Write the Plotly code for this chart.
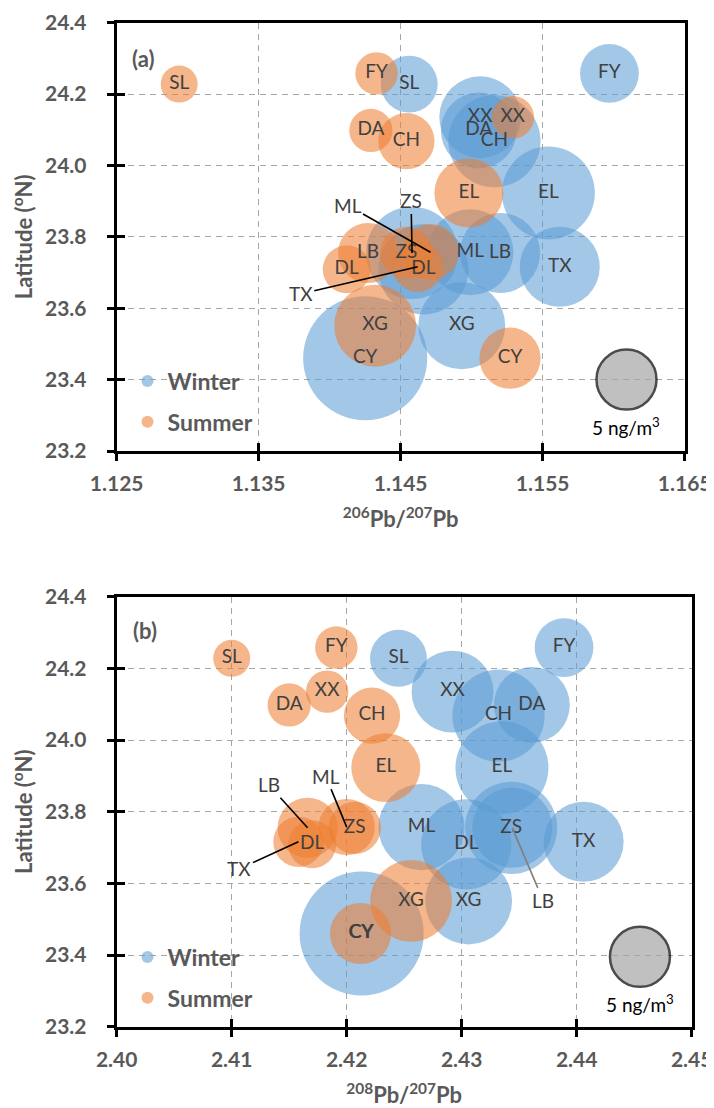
import plotly.graph_objects as go

# ---------------- data ----------------
sites = ["SL", "FY", "XX", "DA", "CH", "EL", "ZS", "ML", "LB", "DL", "TX", "XG", "CY"]
latitude = [24.228, 24.258, 24.135, 24.098, 24.068, 23.923, 23.755, 23.757, 23.755, 23.709, 23.716, 23.551, 23.460]

pb206_207_winter = [1.1456, 1.1597, 1.1506, 1.1505, 1.1516, 1.1554, 1.1458, 1.1499, 1.1520, 1.1466, 1.1562, 1.1493, 1.1425]
pb206_207_summer = [1.1294, 1.1433, 1.1529, 1.1429, 1.1454, 1.1498, 1.1454, 1.1471, 1.1427, 1.1412, 1.1462, 1.1432, 1.1527]
pb208_207_winter = [2.4245, 2.4389, 2.4292, 2.4361, 2.4332, 2.4335, 2.4343, 2.4265, 2.4344, 2.4304, 2.4406, 2.4306, 2.4213]
pb208_207_summer = [2.4100, 2.4191, 2.4183, 2.4150, 2.4222, 2.4234, 2.4207, 2.4200, 2.4166, 2.4170, 2.4158, 2.4256, 2.4212]

# Pb concentration (ng/m3), bubble area
pb_winter = [4.5, 4.8, 9.3, 8.0, 11.8, 12.0, 11.8, 10.3, 8.9, 11.3, 8.9, 10.5, 21.4]
pb_summer = [1.9, 2.5, 2.5, 2.6, 4.4, 6.6, 3.8, 4.4, 5.0, 3.2, 3.5, 9.3, 5.2]

# reference bubble (5 ng/m3)
ref_value = 5
ref_a = (1.1609, 23.40)
ref_b = (2.4455, 23.395)

# axis ticks
x_ticks_a = [1.125, 1.135, 1.145, 1.155, 1.165]
x_ticktext_a = ["1.125", "1.135", "1.145", "1.155", "1.165"]
x_ticks_b = [2.40, 2.41, 2.42, 2.43, 2.44, 2.45]
x_ticktext_b = ["2.40", "2.41", "2.42", "2.43", "2.44", "2.45"]
y_ticks = [23.2, 23.4, 23.6, 23.8, 24.0, 24.2, 24.4]
y_ticktext = ["23.2", "23.4", "23.6", "23.8", "24.0", "24.2", "24.4"]

# callout labels: (season, site, text offset x px, text offset y px, line colour)
callouts_a = [("Summer", "ML", -83, -47, "black"), ("Summer", "TX", -117, 27, "black"),
              ("Winter", "ZS", -1, -52, "black")]
callouts_b = [("Summer", "LB", -39, -43, "black"), ("Summer", "ML", -21, -51, "black"),
              ("Summer", "TX", -59, 27, "black"), ("Winter", "LB", 31, 73, "#7f7f7f")]

# ---------------- style ----------------
OFF = 8                      # default page margin of the html body
W, H = 714, 1108
BLUE = "rgba(91,155,213,0.80)"
ORANGE = "rgba(237,125,49,0.80)"
GRAY_TXT = "#595959"
LABEL_TXT = "#404040"
FONT = "Lato"
SIZEREF = 2.0 * ref_value / 60.0 ** 2   # 5 ng/m3 -> 60 px diameter

def xdom(a, b):
    return [(a - OFF) / W, (b - OFF) / W]

def ydom(bottom, top):
    return [1 - (bottom - OFF) / H, 1 - (top - OFF) / H]

dom_x_a = xdom(116.7, 684.7)
dom_x_b = xdom(116.7, 691.7)
dom_y_a = ydom(451.0, 22.7)
dom_y_b = ydom(1026.7, 596.7)

fig = go.Figure()

panels = [
    dict(xa="x", ya="y", xs_w=pb206_207_winter, xs_s=pb206_207_summer, ref=ref_a,
         legend="legend", callouts=callouts_a),
    dict(xa="x2", ya="y2", xs_w=pb208_207_winter, xs_s=pb208_207_summer, ref=ref_b,
         legend="legend2", callouts=callouts_b),
]

annotations = []
for p in panels:
    series = [("Winter", p["xs_w"], BLUE, pb_winter), ("Summer", p["xs_s"], ORANGE, pb_summer)]
    for name, xs, col, vals in series:
        fig.add_trace(go.Scatter(
            x=xs, y=latitude, mode="markers", name=name,
            marker=dict(size=vals, sizemode="area", sizeref=SIZEREF, color=col, line=dict(width=0)),
            xaxis=p["xa"], yaxis=p["ya"], legend=p["legend"], legendgroup=name,
            hoverinfo="x+y+name"))
    # reference bubble
    fig.add_trace(go.Scatter(
        x=[p["ref"][0]], y=[p["ref"][1]], mode="markers",
        marker=dict(size=[ref_value], sizemode="area", sizeref=SIZEREF, color="#A6A6A6",
                    line=dict(color="black", width=2.5)),
        xaxis=p["xa"], yaxis=p["ya"], showlegend=False, hoverinfo="skip"))
    annotations.append(dict(x=p["ref"][0], y=p["ref"][1], xref=p["xa"], yref=p["ya"],
                            text="5 ng/m<sup>3</sup>", showarrow=False, yshift=-47,
                            xanchor="center", yanchor="middle",
                            font=dict(family=FONT, size=19, color="black")))
    # labels
    co = {(c[0], c[1]): c for c in p["callouts"]}
    for name, xs, col, vals in series:
        keep = [i for i, s in enumerate(sites) if (name, s) not in co]
        fig.add_trace(go.Scatter(
            x=[xs[i] for i in keep], y=[latitude[i] for i in keep], mode="text",
            text=[sites[i] for i in keep], textposition="middle center",
            textfont=dict(family=FONT, size=19, color=LABEL_TXT),
            xaxis=p["xa"], yaxis=p["ya"], showlegend=False, hoverinfo="skip"))
        for (season, site), c in co.items():
            if season != name:
                continue
            i = sites.index(site)
            annotations.append(dict(
                x=xs[i], y=latitude[i], xref=p["xa"], yref=p["ya"], text=site,
                showarrow=True, arrowhead=0, arrowwidth=1.6, arrowcolor=c[4],
                ax=c[2], ay=c[3], font=dict(family=FONT, size=19, color=LABEL_TXT)))

# placeholder traces so the overlay tick axes (crossing tick marks) are drawn
fig.add_trace(go.Scatter(x=[x_ticks_a[0]], y=[y_ticks[0]], xaxis="x3", yaxis="y3", mode="markers",
                         marker=dict(opacity=0), showlegend=False, hoverinfo="skip"))
fig.add_trace(go.Scatter(x=[x_ticks_b[0]], y=[y_ticks[0]], xaxis="x4", yaxis="y4", mode="markers",
                         marker=dict(opacity=0), showlegend=False, hoverinfo="skip"))

tickfont = dict(family=FONT, size=21, color=GRAY_TXT, weight="bold")
titlefont = dict(family=FONT, size=22, color=GRAY_TXT, weight="bold")

def main_axis(rng, dom, anchor, tickvals, ticktext, title, standoff, tstandoff):
    return dict(range=rng, domain=dom, anchor=anchor, tickmode="array", tickvals=tickvals,
                ticktext=ticktext, ticks="outside", ticklen=7, tickwidth=3, tickcolor="black",
                showline=True, linewidth=3, linecolor="black", mirror=True, automargin=False,
                showgrid=True, gridcolor="#a6a6a6", gridwidth=1.2, griddash="6px,5px",
                zeroline=False, tickfont=tickfont, ticklabelstandoff=standoff,
                ticklabeloverflow="allow",
                title=dict(text=title, font=titlefont, standoff=tstandoff))

def overlay_axis(rng, over, anchor, tickvals):
    return dict(range=rng, overlaying=over, anchor=anchor, tickmode="array", tickvals=tickvals,
                ticks="inside", ticklen=8, tickwidth=3, tickcolor="black", showticklabels=False,
                showline=False, showgrid=False, zeroline=False, automargin=False)

xr_a = [x_ticks_a[0], x_ticks_a[-1]]
xr_b = [x_ticks_b[0], x_ticks_b[-1]]
yr = [y_ticks[0], y_ticks[-1]]

xtitle_a = "<sup>206</sup>Pb/<sup>207</sup>Pb"
xtitle_b = "<sup>208</sup>Pb/<sup>207</sup>Pb"
ytitle = "Latitude (<sup>o</sup>N)"

annotations.append(dict(x=0.047, y=0.917, xref="x domain", yref="y domain", text="(a)",
                        xanchor="center", yanchor="middle", showarrow=False, font=titlefont))
annotations.append(dict(x=0.050, y=0.922, xref="x2 domain", yref="y2 domain", text="(b)",
                        xanchor="center", yanchor="middle", showarrow=False, font=titlefont))

legend_style = dict(font=dict(family=FONT, size=23, color=GRAY_TXT, weight="bold"),
                    bgcolor="rgba(0,0,0,0)", itemsizing="constant", traceorder="grouped",
                    xanchor="left", yanchor="bottom", tracegroupgap=8)

fig.update_layout(
    width=W, height=H, autosize=False,
    margin=dict(l=0, r=0, t=0, b=0, autoexpand=False),
    paper_bgcolor="white", plot_bgcolor="white",
    xaxis=main_axis(xr_a, dom_x_a, "y", x_ticks_a, x_ticktext_a, xtitle_a, 5, 18),
    yaxis=main_axis(yr, dom_y_a, "x", y_ticks, y_ticktext, ytitle, 16, 8),
    xaxis2=main_axis(xr_b, dom_x_b, "y2", x_ticks_b, x_ticktext_b, xtitle_b, 5, 18),
    yaxis2=main_axis(yr, dom_y_b, "x2", y_ticks, y_ticktext, ytitle, 16, 8),
    xaxis3=overlay_axis(xr_a, "x", "y3", x_ticks_a),
    yaxis3=overlay_axis(yr, "y", "x3", y_ticks),
    xaxis4=overlay_axis(xr_b, "x2", "y4", x_ticks_b),
    yaxis4=overlay_axis(yr, "y2", "x4", y_ticks),
    legend=dict(x=(127.5 - OFF) / W, y=1 - (443.5 - OFF) / H, **legend_style),
    legend2=dict(x=(127.5 - OFF) / W, y=1 - (1019.5 - OFF) / H, **legend_style),
    annotations=annotations,
    showlegend=True,
)

fig.write_html("out.html")
